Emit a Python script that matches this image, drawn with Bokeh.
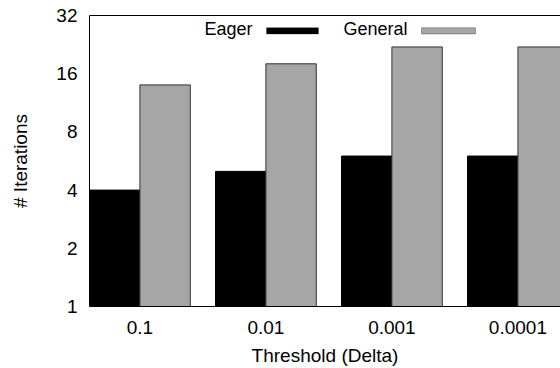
from bokeh.plotting import figure
from bokeh.models import Range1d, FixedTicker, Label, BoxAnnotation, LinearAxis
from bokeh.embed import file_html
from bokeh.resources import INLINE

categories = ["0.1", "0.01", "0.001", "0.0001"]
eager = [4, 5, 6, 6]
general = [14, 18, 22, 22]
y_ticks = [1, 2, 4, 8, 16, 32]

FONT = "Liberation Sans"
FS = "19px"
LEG_FS = "18px"

idx = list(range(len(categories)))
p = figure(width=560, height=368, output_backend="svg", toolbar_location=None,
           y_axis_type="log", x_range=Range1d(-0.4, 3.338), y_range=Range1d(1, 32),
           min_border_left=89, min_border_right=0, min_border_top=15, min_border_bottom=61)
p.background_fill_color = "white"
p.border_fill_color = "white"
p.outline_line_color = None
p.xgrid.visible = False
p.ygrid.visible = False

p.vbar(x=[i - 0.2 for i in idx], top=eager, bottom=1, width=0.4,
       fill_color="black", line_color="black", line_width=1)
p.vbar(x=[i + 0.2 for i in idx], top=general, bottom=1, width=0.4,
       fill_color="#a6a6a6", line_color="#333333", line_width=1)

p.xaxis.ticker = FixedTicker(ticks=idx)
p.xaxis.major_label_overrides = {i: c for i, c in zip(idx, categories)}
p.yaxis.ticker = FixedTicker(ticks=y_ticks)
p.yaxis.major_label_overrides = {v: str(v) for v in y_ticks}
p.xaxis.axis_label = "Threshold (Delta)"
p.yaxis.axis_label = "# Iterations"
for ax in (p.xaxis, p.yaxis):
    ax.major_tick_in = 0
    ax.major_tick_out = 0
    ax.minor_tick_in = 0
    ax.minor_tick_out = 0
    ax.axis_line_color = "black"
    ax.major_label_text_font = FONT
    ax.major_label_text_font_size = FS
    ax.major_label_text_color = "black"
    ax.axis_label_text_font = FONT
    ax.axis_label_text_font_size = FS
    ax.axis_label_text_font_style = "normal"
    ax.axis_label_text_color = "black"
p.xaxis.major_label_standoff = 14
p.yaxis.major_label_standoff = 12
p.xaxis.axis_label_standoff = 8
p.yaxis.axis_label_standoff = 22

top_axis = LinearAxis(major_tick_in=0, major_tick_out=0, minor_tick_in=0, minor_tick_out=0,
                      major_label_text_font_size="0px", axis_line_color="black")
top_axis.ticker = FixedTicker(ticks=[])
p.add_layout(top_axis, "above")

# legend (label then swatch), placed in data coordinates near the top
p.add_layout(Label(x=0.894, y=27.4, text="Eager", text_align="right", text_baseline="middle",
                   text_font=FONT, text_font_size=LEG_FS, text_color="black"))
p.add_layout(BoxAnnotation(left=1.005, right=1.417, bottom=25.7, top=27.65,
                           fill_color="black", fill_alpha=1, line_color="black"))
p.add_layout(Label(x=2.124, y=27.4, text="General", text_align="right", text_baseline="middle",
                   text_font=FONT, text_font_size=LEG_FS, text_color="black"))
p.add_layout(BoxAnnotation(left=2.235, right=2.663, bottom=25.7, top=27.65,
                           fill_color="#a6a6a6", fill_alpha=1, line_color="black", line_width=1))

open("out.html", "w").write(file_html(p, INLINE))
